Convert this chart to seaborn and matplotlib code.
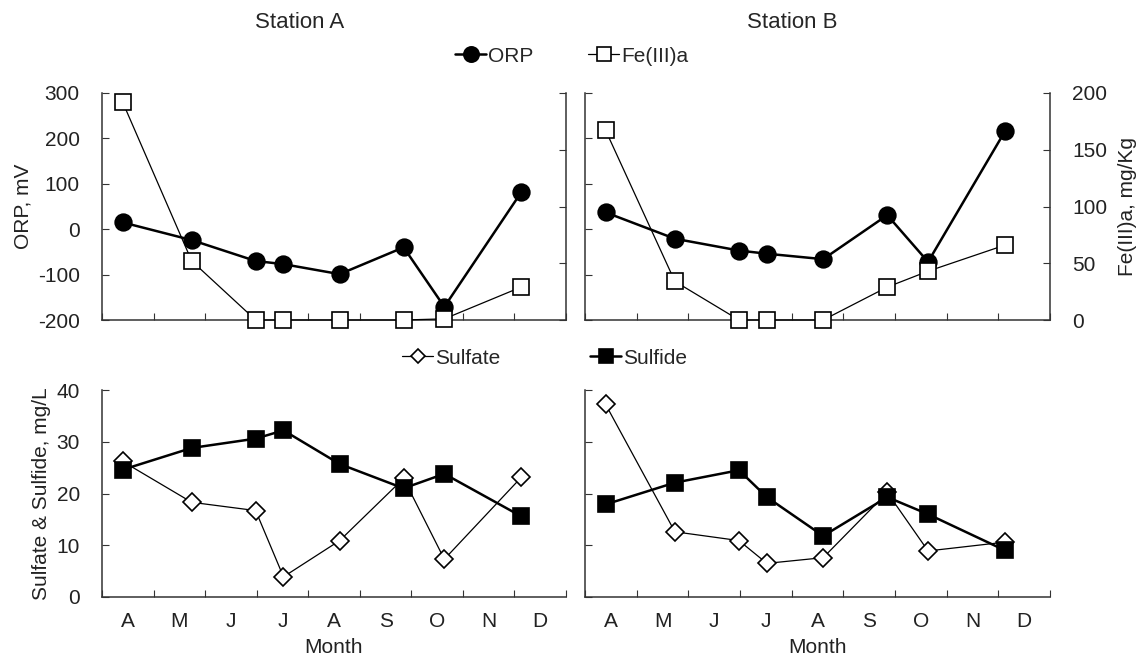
import matplotlib
matplotlib.use("Agg")
import matplotlib.pyplot as plt
from matplotlib.lines import Line2D
import seaborn as sns

# month categories on the x axis (April .. December)
months = ["A", "M", "J", "J", "A", "S", "O", "N", "D"]
# sampling dates, in months from the start of April
sample_pos = [0.40, 1.74, 2.98, 3.52, 4.61, 5.85, 6.64, 8.13]

# Station A
orp_a = [15, -24, -70, -77, -99, -40, -171, 81]
fe_a = [192, 52, 0, 0, 0, 0, 1, 29]
sulfate_a = [26.2, 18.3, 16.7, 3.9, 10.9, 22.9, 7.3, 23.1]
sulfide_a = [24.6, 28.8, 30.6, 32.2, 25.7, 21.0, 23.8, 15.6]

# Station B
orp_b = [37, -21, -47, -54, -66, 31, -72, 216]
fe_b = [167, 34, 0, 0, 0, 29, 43, 66]
sulfate_b = [37.2, 12.6, 10.9, 6.5, 7.6, 20.2, 8.9, 10.6]
sulfide_b = [17.9, 22.1, 24.5, 19.3, 11.8, 19.3, 16.0, 9.0]

FS = 15

sns.set_style("ticks")
plt.rcParams["font.family"] = ["Liberation Sans", "DejaVu Sans"]
plt.rcParams["font.size"] = FS
plt.rcParams["axes.unicode_minus"] = False
plt.rcParams["axes.edgecolor"] = "#333333"
plt.rcParams["axes.linewidth"] = 1.1
plt.rcParams["xtick.color"] = "#333333"
plt.rcParams["ytick.color"] = "#333333"
plt.rcParams["xtick.labelcolor"] = "#222222"
plt.rcParams["ytick.labelcolor"] = "#222222"
plt.rcParams["axes.labelcolor"] = "#222222"

W, H = 1144, 657
fig = plt.figure(figsize=(W / 100, H / 100), dpi=100)


def box(x0, x1, y0, y1):
    # pixel box -> figure fraction
    return [x0 / W, 1 - y1 / H, (x1 - x0) / W, (y1 - y0) / H]


THICK = dict(color="black", linewidth=1.8, markeredgecolor="black", markeredgewidth=1.2)
THIN = dict(color="black", linewidth=0.9, markeredgecolor="black", markeredgewidth=1.2)


def draw(ax, y, marker, face, ms, style, z):
    sns.lineplot(x=sample_pos, y=y, ax=ax, marker=marker, markersize=ms,
                 markerfacecolor=face, clip_on=False, zorder=z, legend=False, **style)


def setup_x(ax, labels):
    ax.set_xlim(0, 9)
    ax.set_xticks(range(10))
    ax.set_xticks([i + 0.5 for i in range(9)], minor=True)
    ax.tick_params(axis="x", which="major", direction="in", length=5, labelbottom=False)
    if labels:
        ax.set_xticklabels(months, minor=True)
        ax.tick_params(axis="x", which="minor", length=0, pad=11)
        ax.set_xlabel("Month", labelpad=5)
    else:
        ax.tick_params(axis="x", which="minor", length=0, labelbottom=False)
        ax.set_xlabel("")


cols = [(102, 566), (585, 1050)]
stations = [("Station A", orp_a, fe_a, sulfate_a, sulfide_a),
            ("Station B", orp_b, fe_b, sulfate_b, sulfide_b)]
title_x = [300, 792]

for i, ((x0, x1), (name, orp, fe, sulfate, sulfide)) in enumerate(zip(cols, stations)):
    # top: ORP (left scale) and Fe(III)a (right scale)
    ax = fig.add_axes(box(x0, x1, 93, 320))
    ax2 = ax.twinx()
    draw(ax, orp, "o", "black", 12, THICK, 3)
    draw(ax2, fe, "s", "white", 12, THIN, 4)
    ax.set_ylim(-200, 300)
    ax.set_yticks(range(-200, 301, 100))
    ax2.set_ylim(0, 200)
    ax2.set_yticks(range(0, 201, 50))
    setup_x(ax, False)
    ax.tick_params(axis="y", direction="in", length=5, pad=16, labelleft=(i == 0))
    ax2.tick_params(axis="y", direction="in", length=5, pad=16, labelright=(i == 1))
    ax.spines["top"].set_visible(False)
    ax.spines["right"].set_visible(False)
    for s in ["top", "left", "bottom"]:
        ax2.spines[s].set_visible(False)
    ax.set_ylabel("ORP, mV" if i == 0 else "", labelpad=4)
    ax2.set_ylabel("Fe(III)a, mg/Kg" if i == 1 else "", labelpad=8)
    fig.text(title_x[i] / W, 1 - 22 / H, name, ha="center", va="center", fontsize=FS + 1)

    # bottom: sulfate and sulfide
    bx = fig.add_axes(box(x0, x1, 390, 597))
    draw(bx, sulfate, "D", "white", 9, THIN, 3)
    draw(bx, sulfide, "s", "black", 12, THICK, 4)
    bx.set_ylim(0, 40)
    bx.set_yticks(range(0, 41, 10))
    setup_x(bx, True)
    bx.tick_params(axis="y", direction="in", length=5, pad=16, labelleft=(i == 0))
    sns.despine(ax=bx)
    bx.set_ylabel("Sulfate & Sulfide, mg/L" if i == 0 else "", labelpad=4)


def legend_entry(label, marker, face, ms, style, x, y):
    h = Line2D([], [], marker=marker, markersize=ms, markerfacecolor=face, **style)
    fig.legend(handles=[h], labels=[label], loc="center left",
               bbox_to_anchor=(x / W, 1 - y / H), frameon=False,
               handlelength=1.5, handletextpad=0.1, borderpad=0, borderaxespad=0,
               fontsize=FS)


legend_entry("ORP", "o", "black", 11, THICK, 455, 56)
legend_entry("Fe(III)a", "s", "white", 10, THIN, 588, 56)
legend_entry("Sulfate", "D", "white", 7, THIN, 402, 358)
legend_entry("Sulfide", "s", "black", 10, THICK, 590, 358)

fig.savefig("out.png", dpi=100)
